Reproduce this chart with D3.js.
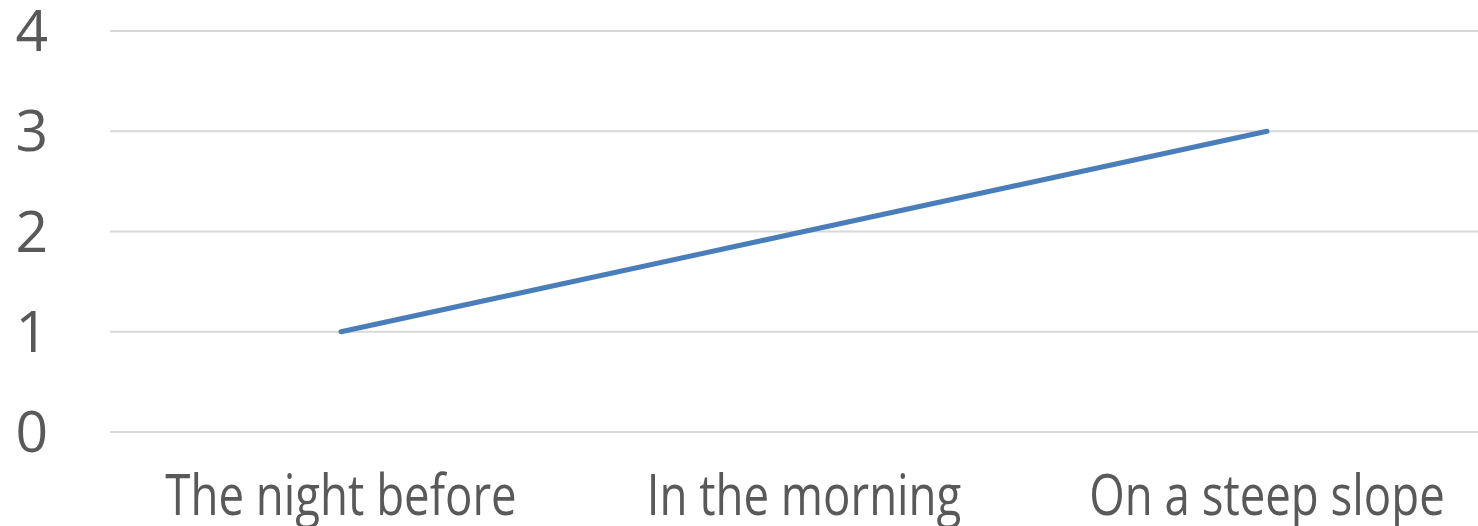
<!DOCTYPE html>
<html>
<head>
<meta charset="utf-8">
<script src="https://cdn.jsdelivr.net/npm/d3@7"></script>
<style>
  body { margin: 0; background: #fff; }
  text { font-family: "Open Sans", sans-serif; fill: #595959; }
</style>
</head>
<body>
<script>
// chart data
var categories = ["The night before", "In the morning", "On a steep slope"];
var values = [1, 2, 3];
var yTicks = [0, 1, 2, 3, 4];

var width = 1478, height = 526;

var svg = d3.select("body").append("svg")
    .attr("width", width)
    .attr("height", height);

// plot area runs a little past the right edge of the window
var x = d3.scaleBand()
    .domain(categories)
    .range([109.5, 1498.5]);

var y = d3.scaleLinear()
    .domain([0, 4])
    .range([432, 31]);

// gridlines
svg.selectAll(".grid")
    .data(yTicks)
    .enter()
    .append("line")
    .attr("class", "grid")
    .attr("x1", 110)
    .attr("x2", width)
    .attr("y1", function(d){ return y(d); })
    .attr("y2", function(d){ return y(d); })
    .attr("stroke", "#d9d9d9")
    .attr("stroke-width", 2);

// y labels
svg.selectAll(".ylab")
    .data(yTicks)
    .enter()
    .append("text")
    .attr("class", "ylab")
    .attr("x", 48)
    .attr("y", function(d){ return y(d) + 20; })
    .attr("text-anchor", "end")
    .style("font-size", "57px")
    .text(function(d){ return d; });

// category labels, squeezed a bit to mimic the narrow original face
svg.selectAll(".xlab")
    .data(categories)
    .enter()
    .append("text")
    .attr("class", "xlab")
    .attr("text-anchor", "middle")
    .attr("transform", function(d){
        return "translate(" + (x(d) + x.bandwidth() / 2) + ",515) scale(0.8,1)";
    })
    .style("font-size", "57px")
    .text(function(d){ return d; });

var line = d3.line()
    .x(function(d, i){ return x(categories[i]) + x.bandwidth() / 2; })
    .y(function(d){ return y(d); });

svg.append("path")
    .datum(values)
    .attr("d", line)
    .attr("fill", "none")
    .attr("stroke", "#4a7ebb")
    .attr("stroke-width", 5)
    .attr("stroke-linecap", "round");
</script>
</body>
</html>
